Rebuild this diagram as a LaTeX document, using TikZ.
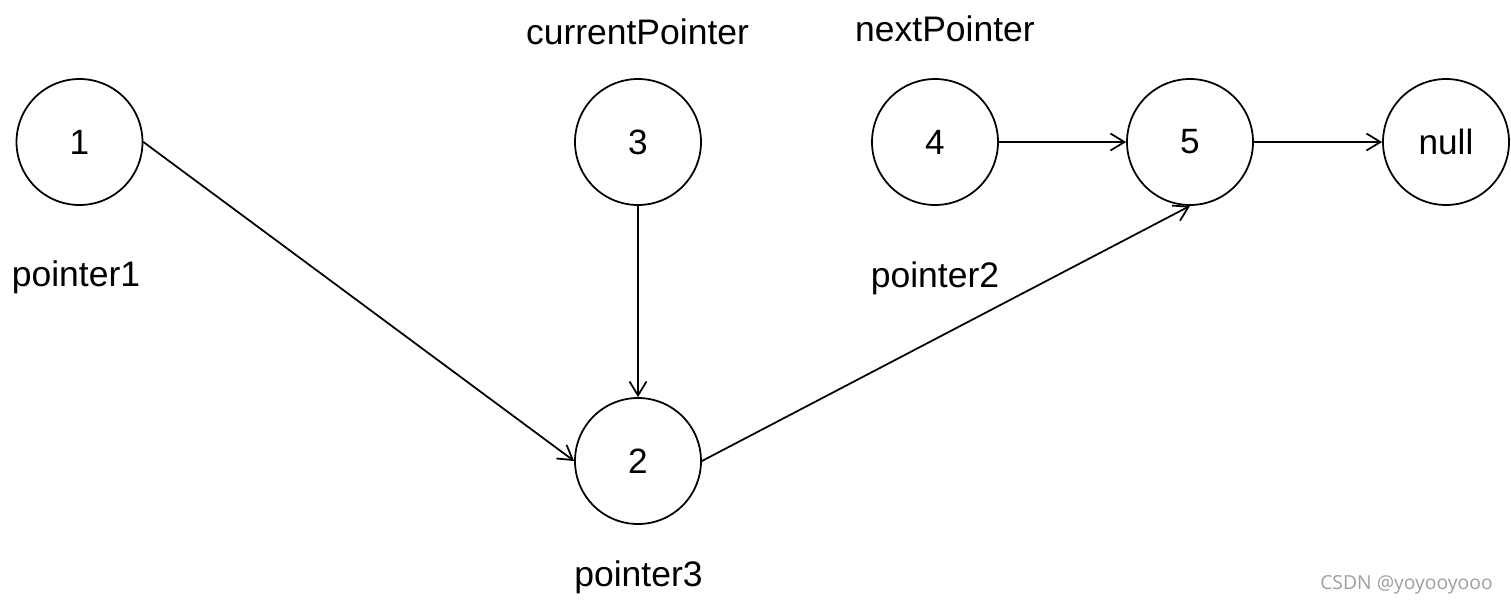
\documentclass[tikz,border=0pt]{standalone}
\usepackage{fontspec}
\setmainfont{Liberation Sans}
\newfontfamily\markfont{Open Sans}
\usetikzlibrary{arrows.meta}
\tikzset{
	listnode/.style={draw, circle, line width=1pt, minimum size=2.52cm, inner sep=0pt, font=\fontsize{20}{24}\selectfont},
	ptrlabel/.style={anchor=base, inner sep=0pt, font=\fontsize{20.2}{24}\selectfont},
	link/.style={line width=1pt, -{Straight Barb[length=0.28cm, width=0.34cm, line width=1pt]}}
}
\begin{document}
\begin{tikzpicture}[line join=round, line cap=round]
			\useasboundingbox (0,0) rectangle (30.22,-12.06);
			\coordinate (P1) at (1.59,-2.84); \coordinate (P3) at (12.76,-2.84);
			\coordinate (P4) at (18.70,-2.84); \coordinate (P5) at (23.80,-2.84);
			\coordinate (PN) at (28.92,-2.84);
			\coordinate (P2) at (12.76,-9.22);
			\node[listnode] (n1) at (P1) {1};
			\node[listnode] (n2) at (P2) {2};
			\node[listnode] (n3) at (P3) {3};
			\node[listnode] (n4) at (P4) {4};
			\node[listnode] (n5) at (P5) {5};
			\node[listnode] (nnull) at (PN) {null};
			\draw[link] (n1.east) -- (n2.west);
			\draw[link] (n3.south) -- (n2.north);
			\draw[link] (n2.east) -- (n5.south);
			\draw[link] (n4.east) -- (n5.west);
			\draw[link] (n5.east) -- (nnull.west);
			\node[ptrlabel] (current) at (12.75,-0.88) {currentPointer};
			\node[ptrlabel] (next) at (18.90,-0.82) {nextPointer};
			\node[ptrlabel] (ptr1) at (1.52,-5.73) {pointer1};
			\node[ptrlabel] (ptr2) at (18.70,-5.74) {pointer2};
			\node[ptrlabel] (ptr3) at (12.77,-11.73) {pointer3};
			\node[anchor=base east, inner sep=0pt, text=gray!75, font=\markfont\fontsize{11}{13}\selectfont] (mark) at (29.86,-11.78) {CSDN @yoyooyooo};
		\end{tikzpicture}
\end{document}
